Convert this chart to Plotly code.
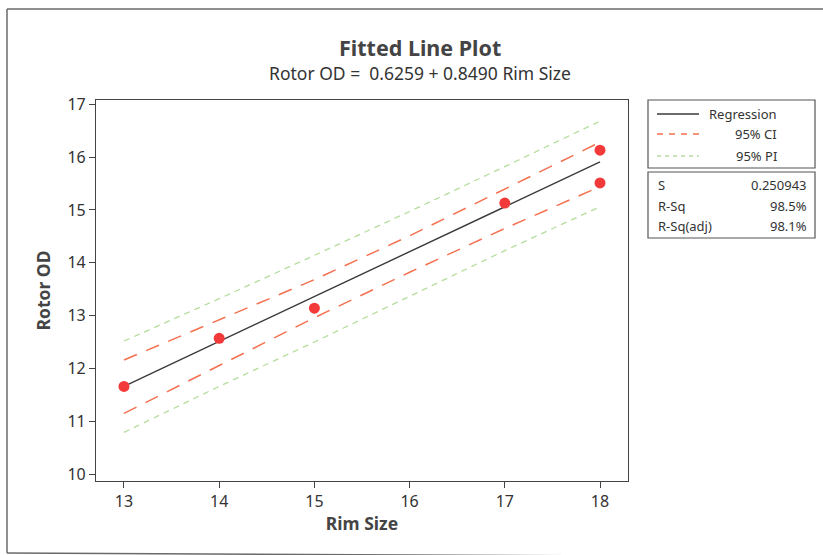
import plotly.graph_objects as go

# Observations
rim_size = [13, 14, 15, 17, 18, 18]
rotor_od = [11.66, 12.57, 13.14, 15.13, 16.13, 15.51]

# Fitted equation: Rotor OD = 0.6259 + 0.8490 Rim Size
intercept = 0.6259
slope = 0.8490

# Confidence / prediction band values along the fitted range
band_x = [13, 14, 15, 16, 17, 18]
ci_upper = [12.16, 12.92, 13.68, 14.51, 15.40, 16.28]
ci_lower = [11.15, 12.06, 12.96, 13.82, 14.65, 15.44]
pi_upper = [12.52, 13.32, 14.14, 14.97, 15.82, 16.68]
pi_lower = [10.79, 11.66, 12.50, 13.36, 14.23, 15.06]

# Summary statistics
stat_names = ["S", "R-Sq", "R-Sq(adj)"]
stat_values = ["0.250943", "98.5%", "98.1%"]

x_ticks = [13, 14, 15, 16, 17, 18]
y_ticks = [10, 11, 12, 13, 14, 15, 16, 17]

W, H = 823, 555
L, R, T, B = 96, 628, 100, 481

fit_y = [intercept + slope * x for x in band_x]

ci_color = "#f4704f"
pi_color = "#b5dd9c"
fit_color = "#3a3a3a"
pt_color = "#f23a3a"
font = "Noto Sans, DejaVu Sans, sans-serif"

fig = go.Figure()
fig.add_trace(go.Scatter(x=band_x, y=pi_upper, mode="lines", line=dict(color=pi_color, width=1.3, dash="6px,5px"), hoverinfo="skip"))
fig.add_trace(go.Scatter(x=band_x, y=pi_lower, mode="lines", line=dict(color=pi_color, width=1.3, dash="6px,5px"), hoverinfo="skip"))
fig.add_trace(go.Scatter(x=band_x, y=ci_upper, mode="lines", line=dict(color=ci_color, width=1.5, dash="14px,10px"), hoverinfo="skip"))
fig.add_trace(go.Scatter(x=band_x, y=ci_lower, mode="lines", line=dict(color=ci_color, width=1.5, dash="14px,10px"), hoverinfo="skip"))
fig.add_trace(go.Scatter(x=band_x, y=fit_y, mode="lines", line=dict(color=fit_color, width=1.4)))
fig.add_trace(go.Scatter(x=rim_size, y=rotor_od, mode="markers", marker=dict(color=pt_color, size=11)))


def px(xp):
    return (xp - L) / (R - L)


def py(yp):
    return (B - yp) / (B - T)


shapes = []
annotations = []

# Outer frame (top, left and bottom edges)
frame = dict(color="#6a6a6a", width=1.5)
shapes.append(dict(type="line", xref="paper", yref="paper", x0=px(7), x1=px(823), y0=py(9), y1=py(9), line=frame))
shapes.append(dict(type="line", xref="paper", yref="paper", x0=px(7), x1=px(7), y0=py(9), y1=py(553), line=frame))
shapes.append(dict(type="line", xref="paper", yref="paper", x0=px(7), x1=px(823), y0=py(553), y1=py(557), line=frame))

# Legend box
shapes.append(dict(type="rect", xref="paper", yref="paper", x0=px(648), x1=px(815), y0=py(168), y1=py(100),
                   line=dict(color="#555555", width=1.2)))
legend_rows = [("Regression", fit_color, "solid", 1.4, 114),
               ("95% CI", ci_color, "6px,6px", 1.5, 134),
               ("95% PI", pi_color, "4px,4px", 1.3, 156)]
for label, col, dash, w, yy in legend_rows:
    shapes.append(dict(type="line", xref="paper", yref="paper", x0=px(657), x1=px(699), y0=py(yy), y1=py(yy),
                       line=dict(color=col, width=w, dash=dash)))
    annotations.append(dict(xref="paper", yref="paper", x=px(779), y=py(yy), text=label, showarrow=False,
                            xanchor="right", yanchor="middle", font=dict(family=font, size=13, color="#333333")))

# Statistics box
shapes.append(dict(type="rect", xref="paper", yref="paper", x0=px(648), x1=px(815), y0=py(238), y1=py(172),
                   line=dict(color="#555555", width=1.2)))
for i, (n, v) in enumerate(zip(stat_names, stat_values)):
    yy = 185 + i * 20.5
    annotations.append(dict(xref="paper", yref="paper", x=px(656), y=py(yy), text=n, showarrow=False,
                            xanchor="left", yanchor="middle", font=dict(family=font, size=13, color="#333333")))
    annotations.append(dict(xref="paper", yref="paper", x=px(809), y=py(yy), text=v, showarrow=False,
                            xanchor="right", yanchor="middle", font=dict(family=font, size=13, color="#333333")))

# Titles
annotations.append(dict(xref="paper", yref="paper", x=px(420), y=py(47), text="<b>Fitted Line Plot</b>", showarrow=False,
                        xanchor="center", yanchor="middle", font=dict(family=font, size=21.5, color="#444444")))
annotations.append(dict(xref="paper", yref="paper", x=px(420), y=py(73), text="Rotor OD =  0.6259 + 0.8490 Rim Size",
                        showarrow=False, xanchor="center", yanchor="middle", font=dict(family=font, size=17.5, color="#333333")))

fig.update_layout(
    width=W, height=H,
    margin=dict(l=L, r=W - R, t=T, b=H - B),
    paper_bgcolor="white", plot_bgcolor="white",
    showlegend=False,
    shapes=shapes, annotations=annotations,
    font=dict(family=font, color="#333333"),
)
fig.update_xaxes(range=[12.706, 18.294], tickvals=x_ticks, ticks="outside", ticklen=6, tickcolor="#444444",
                 showline=True, linecolor="#444444", linewidth=1.2, mirror=True, showgrid=False, zeroline=False,
                 tickfont=dict(family=font, size=16, color="#333333"),
                 title=dict(text="<b>Rim Size</b>", font=dict(family=font, size=17.5, color="#444444"), standoff=6))
fig.update_yaxes(range=[9.87, 17.08], tickvals=y_ticks, ticks="outside", ticklen=6, tickcolor="#444444",
                 showline=True, linecolor="#444444", linewidth=1.2, mirror=True, showgrid=False, zeroline=False,
                 tickfont=dict(family=font, size=16, color="#333333"),
                 title=dict(text="<b>Rotor OD</b>", font=dict(family=font, size=17.5, color="#444444"), standoff=12))

fig.write_html("out.html")
